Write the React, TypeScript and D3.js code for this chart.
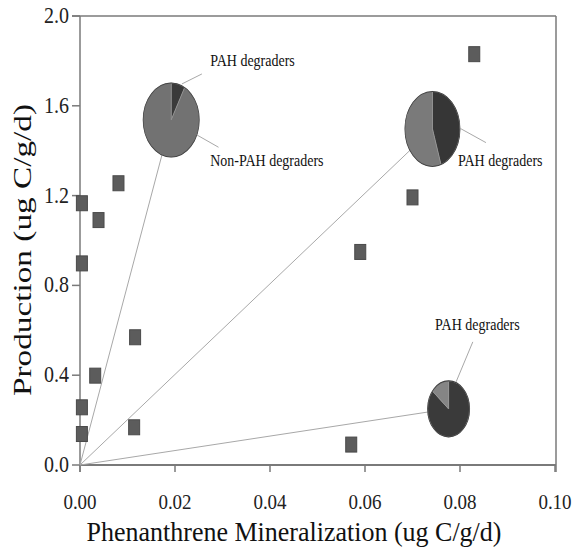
import React from "react";
import * as d3 from "d3";

// ---- data ----
const pointX = [0.0004, 0.0004, 0.0004, 0.0004, 0.0032, 0.0039, 0.0081, 0.0114, 0.0116, 0.0571, 0.059, 0.07, 0.083];
const pointY = [1.166, 0.898, 0.257, 0.138, 0.398, 1.091, 1.255, 0.168, 0.569, 0.091, 0.949, 1.192, 1.83];

const xTicks = [0, 0.02, 0.04, 0.06, 0.08, 0.1];
const xTickLabels = ["0.00", "0.02", "0.04", "0.06", "0.08", "0.10"];
const yTicks = [0, 0.4, 0.8, 1.2, 1.6, 2.0];
const yTickLabels = ["0.0", "0.4", "0.8", "1.2", "1.6", "2.0"];

const xTitle = "Phenanthrene Mineralization (ug C/g/d)";
const yTitle = "Production (ug C/g/d)";

// pie insets: center in data units, [PAH degraders, Non-PAH degraders] shares
const pieCenterX = [0.0192, 0.0742, 0.0776];
const pieCenterY = [1.537, 1.497, 0.25];
const piePAH = [8, 45, 86];
const pieNonPAH = [92, 55, 14];
const pieLabels = [["PAH degraders", "Non-PAH degraders"], ["PAH degraders"], ["PAH degraders"]];

// ---- styling / layout ----
const W = 573, H = 547;
const X0 = 80, X1 = 555, Y0 = 465, Y1 = 16;
const pieRx = [28, 27.5, 21];
const pieRy = [37, 37.5, 28];
const darkColor = ["#3a3a3a", "#363636", "#3a3a3a"];
const lightColor = ["#727272", "#7a7a7a", "#858585"];
// leader offsets relative to pie centers (px): [x1,y1,x2,y2,labelX,labelY]
const leaders = [
  [[10.7, -36, 30.7, -46, 39, -54], [25.7, 15, 47.3, 27.3, 39, 46]],
  [[27.5, -0.7, 53.5, 13.7, 25.5, 37]],
  [[7.5, -27, 24.2, -67, -13.5, -79]],
];

const serif = "'Liberation Serif', 'Times New Roman', serif";

export default function App() {
  const x = d3.scaleLinear().domain([0, 0.1]).range([X0, X1]);
  const y = d3.scaleLinear().domain([0, 2]).range([Y0, Y1]);
  const axisColor = "#7a7a7a";
  const pie = d3.pie<number>().sort(null).value((d) => d);

  return (
    <svg width={W} height={H} style={{ position: "absolute", left: 0, top: 0, background: "#fff" }}>
      {/* frame */}
      <line x1={x(0) - 8} x2={x(0.1) + 1} y1={y(2)} y2={y(2)} stroke={axisColor} strokeWidth={1.5} />
      <line x1={x(0.1) + 1} x2={x(0.1) + 1} y1={y(2)} y2={y(0) + 7} stroke={axisColor} strokeWidth={1.5} />
      <line x1={x(0)} x2={x(0)} y1={y(2)} y2={y(0) + 7} stroke={axisColor} strokeWidth={1.5} />
      <line x1={x(0)} x2={x(0.1) + 1} y1={y(0)} y2={y(0)} stroke={axisColor} strokeWidth={2} />
      {yTicks.map((t, i) => (
        <g key={"yt" + i}>
          <line x1={x(0) - 8} x2={x(0)} y1={y(t)} y2={y(t)} stroke={axisColor} strokeWidth={1.5} />
          <text
            transform={`translate(${x(0) - 11},${y(t) + 7}) scale(1,1.2)`}
            textAnchor="end"
            fontFamily={serif}
            fontSize={20}
            fill="#222"
          >
            {yTickLabels[i]}
          </text>
        </g>
      ))}
      {xTicks.map((t, i) => (
        <g key={"xt" + i}>
          <line x1={x(t)} x2={x(t)} y1={y(0)} y2={y(0) + 7} stroke={axisColor} strokeWidth={1.5} />
          <text
            transform={`translate(${x(t)},${509}) scale(1,1.12)`}
            textAnchor="middle"
            fontFamily={serif}
            fontSize={19}
            fill="#222"
          >
            {xTickLabels[i]}
          </text>
        </g>
      ))}
      <text
        transform={`translate(${294},${541}) scale(1,1.08)`}
        textAnchor="middle"
        fontFamily={serif}
        fontSize={26}
        fill="#111"
      >
        {xTitle}
      </text>
      <text
        transform={`translate(${31},${250}) rotate(-90) scale(1.28,1)`}
        textAnchor="middle"
        fontFamily={serif}
        fontSize={26}
        fill="#111"
      >
        {yTitle}
      </text>

      {/* lines from origin to pies */}
      {pieCenterX.map((cx, i) => (
        <line
          key={"ol" + i}
          x1={x(0)}
          y1={y(0)}
          x2={x(cx)}
          y2={y(pieCenterY[i])}
          stroke="#a8a8a8"
          strokeWidth={1}
        />
      ))}

      {/* data points */}
      {pointX.map((px, i) => (
        <rect
          key={"p" + i}
          x={x(px) - 5.5}
          y={y(pointY[i]) - 7.5}
          width={11}
          height={15}
          fill="#5c5c5c"
          stroke="#4a4a4a"
          strokeWidth={1}
        />
      ))}

      {/* pies */}
      {pieCenterX.map((cx, i) => {
        const arcs = pie([piePAH[i], pieNonPAH[i]]);
        const arc = d3.arc<d3.PieArcDatum<number>>().innerRadius(0).outerRadius(pieRx[i]);
        return (
          <g key={"pie" + i}>
            <g transform={`translate(${x(cx)},${y(pieCenterY[i])}) scale(1,${pieRy[i] / pieRx[i]})`}>
              {arcs.map((a, j) => (
                <path
                  key={j}
                  d={arc(a) || ""}
                  fill={j === 0 ? darkColor[i] : lightColor[i]}
                  stroke="#999"
                  strokeWidth={0.5}
                />
              ))}
              <ellipse cx={0} cy={0} rx={pieRx[i]} ry={pieRx[i]} fill="none" stroke="#444" strokeWidth={0.8} />
            </g>
            {leaders[i].map((l, k) => (
              <g key={"l" + k}>
                <line
                  x1={x(cx) + l[0]}
                  y1={y(pieCenterY[i]) + l[1]}
                  x2={x(cx) + l[2]}
                  y2={y(pieCenterY[i]) + l[3]}
                  stroke="#a8a8a8"
                  strokeWidth={1}
                />
                <text
                  transform={`translate(${x(cx) + l[4]},${y(pieCenterY[i]) + l[5]}) scale(1,1.15)`}
                  fontFamily={serif}
                  fontSize={14}
                  fill="#111"
                >
                  {pieLabels[i][k]}
                </text>
              </g>
            ))}
          </g>
        );
      })}
    </svg>
  );
}
